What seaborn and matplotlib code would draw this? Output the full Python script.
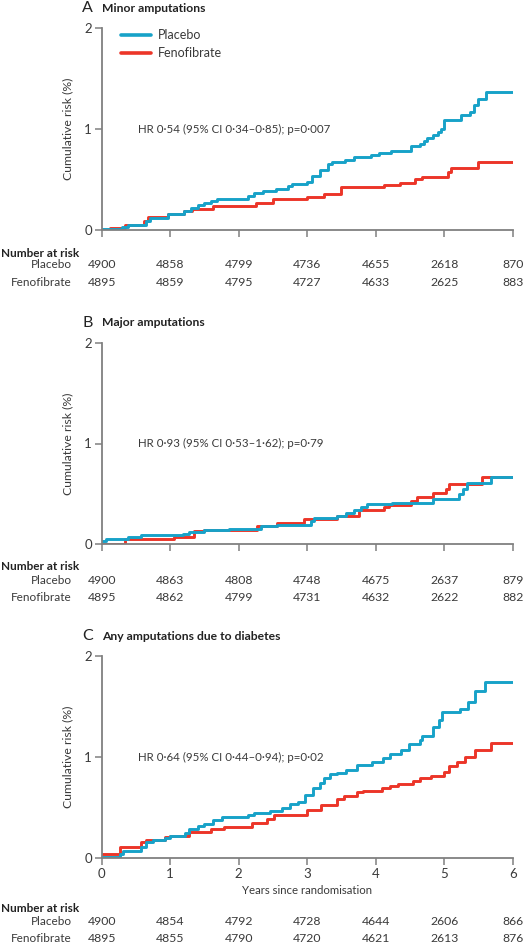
import numpy as np
import pandas as pd
import seaborn as sns
import matplotlib.pyplot as plt
from matplotlib.transforms import blended_transform_factory

# --- data (years, cumulative risk %) ---
a_placebo_t = [0, 0.3, 0.38, 0.65, 0.7, 0.97, 1.2, 1.3, 1.4, 1.5, 1.6, 1.68, 2.14, 2.22, 2.35, 2.55, 2.72, 2.78,
               3.0, 3.07, 3.19, 3.31, 3.36, 3.55, 3.69, 3.93, 4.05, 4.22, 4.51, 4.65, 4.7, 4.75, 4.84, 4.91, 4.96,
               5.0, 5.25, 5.37, 5.44, 5.49, 5.61, 6.0]
a_placebo_r = [0.01, 0.03, 0.05, 0.09, 0.12, 0.16, 0.19, 0.22, 0.25, 0.27, 0.29, 0.31, 0.34, 0.37, 0.39, 0.41, 0.44,
               0.46, 0.48, 0.53, 0.59, 0.65, 0.67, 0.69, 0.72, 0.74, 0.76, 0.78, 0.83, 0.85, 0.88, 0.91, 0.94, 0.97,
               1.0, 1.09, 1.14, 1.17, 1.24, 1.30, 1.37, 1.37]
a_feno_t = [0, 0.12, 0.34, 0.62, 0.68, 0.97, 1.2, 1.32, 1.62, 2.25, 2.5, 3.0, 3.24, 3.5, 4.12, 4.36, 4.58, 4.67,
            5.06, 5.1, 5.49, 6.0]
a_feno_r = [0, 0.02, 0.05, 0.09, 0.13, 0.16, 0.19, 0.21, 0.24, 0.27, 0.31, 0.33, 0.36, 0.43, 0.45, 0.47, 0.50, 0.52,
            0.57, 0.61, 0.67, 0.67]

b_placebo_t = [0, 0.07, 0.39, 0.58, 1.18, 1.28, 1.5, 1.86, 2.32, 2.56, 3.05, 3.1, 3.43, 3.57, 3.69, 3.79, 3.88,
               4.24, 4.83, 5.21, 5.28, 5.33, 5.69, 6.0]
b_placebo_r = [0.03, 0.05, 0.07, 0.09, 0.10, 0.115, 0.14, 0.15, 0.175, 0.19, 0.23, 0.26, 0.28, 0.31, 0.34, 0.37,
               0.40, 0.41, 0.45, 0.50, 0.55, 0.61, 0.67, 0.67]
b_feno_t = [0, 0.34, 1.06, 1.35, 1.5, 2.27, 2.56, 2.95, 3.43, 3.76, 4.12, 4.19, 4.52, 4.6, 4.83, 5.02, 5.07, 5.55, 6.0]
b_feno_r = [0, 0.05, 0.07, 0.13, 0.14, 0.175, 0.21, 0.25, 0.28, 0.34, 0.37, 0.39, 0.43, 0.47, 0.51, 0.55, 0.60,
            0.67, 0.67]

c_placebo_t = [0, 0.27, 0.31, 0.58, 0.65, 0.75, 0.92, 0.99, 1.21, 1.28, 1.4, 1.5, 1.62, 1.76, 2.13, 2.22, 2.46,
               2.63, 2.75, 2.87, 2.97, 3.08, 3.18, 3.25, 3.34, 3.44, 3.56, 3.73, 3.94, 4.11, 4.21, 4.37, 4.49, 4.64,
               4.68, 4.83, 4.92, 4.97, 5.23, 5.35, 5.45, 5.59, 6.0]
c_placebo_r = [0.01, 0.04, 0.07, 0.11, 0.16, 0.18, 0.20, 0.22, 0.25, 0.29, 0.32, 0.34, 0.38, 0.41, 0.43, 0.45, 0.47,
               0.50, 0.53, 0.55, 0.62, 0.69, 0.74, 0.79, 0.83, 0.84, 0.87, 0.92, 0.95, 0.99, 1.03, 1.07, 1.13, 1.17,
               1.21, 1.30, 1.37, 1.45, 1.48, 1.54, 1.65, 1.74, 1.74]
c_feno_t = [0, 0.27, 0.58, 0.65, 0.92, 0.99, 1.28, 1.59, 1.79, 2.2, 2.42, 2.51, 3.0, 3.2, 3.44, 3.54, 3.73, 3.82,
            4.09, 4.21, 4.33, 4.54, 4.64, 4.8, 5.0, 5.07, 5.19, 5.31, 5.45, 5.69, 6.0]
c_feno_r = [0.04, 0.11, 0.16, 0.18, 0.21, 0.22, 0.255, 0.29, 0.31, 0.35, 0.39, 0.43, 0.475, 0.52, 0.58, 0.61, 0.65,
            0.66, 0.69, 0.71, 0.73, 0.76, 0.79, 0.81, 0.85, 0.91, 0.95, 1.0, 1.07, 1.135, 1.135]

risk_years = [0, 1, 2, 3, 4, 5, 6]
a_risk_placebo = [4900, 4858, 4799, 4736, 4655, 2618, 870]
a_risk_feno = [4895, 4859, 4795, 4727, 4633, 2625, 883]
b_risk_placebo = [4900, 4863, 4808, 4748, 4675, 2637, 879]
b_risk_feno = [4895, 4862, 4799, 4731, 4632, 2622, 882]
c_risk_placebo = [4900, 4854, 4792, 4728, 4644, 2606, 866]
c_risk_feno = [4895, 4855, 4790, 4720, 4621, 2613, 876]

panel_letters = ['A', 'B', 'C']
panel_titles = ['Minor amputations', 'Major amputations', 'Any amputations due to diabetes']
hr_texts = ['HR 0·54 (95% CI 0·34–0·85); p=0·007',
            'HR 0·93 (95% CI 0·53–1·62); p=0·79',
            'HR 0·64 (95% CI 0·44–0·94); p=0·02']

BLUE = '#17a2c8'
RED = '#ec3528'
AXC = '#808080'
TXT = '#3a3a3a'

sns.set_theme(style='white')
plt.rcParams['font.family'] = ['Lato', 'DejaVu Sans']

W, H = 530, 946
fig = plt.figure(figsize=(W / 100, H / 100), dpi=100)


def fy(py):
    return 1 - py / H


# axes positions in pixels: (y of value 2, y of value 0)
panels = [(28, 230), (343, 544), (656, 858)]
# rows of the number-at-risk tables (header, placebo, fenofibrate), pixels
table_rows = [(253, 265, 283), (567, 580, 597), (908, 921, 938)]
x_left, x_right = 101.7, 512.7

series = [
    (a_placebo_t, a_placebo_r, a_feno_t, a_feno_r, a_risk_placebo, a_risk_feno),
    (b_placebo_t, b_placebo_r, b_feno_t, b_feno_r, b_risk_placebo, b_risk_feno),
    (c_placebo_t, c_placebo_r, c_feno_t, c_feno_r, c_risk_placebo, c_risk_feno),
]

for i, ((top, bot), (pt, pr, ft, fr, rp, rf)) in enumerate(zip(panels, series)):
    ax = fig.add_axes([x_left / W, fy(bot), (x_right - x_left) / W, (bot - top) / H])
    df = pd.concat([
        pd.DataFrame({'years': ft, 'risk': fr, 'group': 'Fenofibrate'}),
        pd.DataFrame({'years': pt, 'risk': pr, 'group': 'Placebo'}),
    ])
    sns.lineplot(data=df, x='years', y='risk', hue='group', hue_order=['Fenofibrate', 'Placebo'],
                 palette={'Placebo': BLUE, 'Fenofibrate': RED}, drawstyle='steps-post',
                 estimator=None, sort=False, linewidth=2.1, ax=ax, legend=(i == 0))
    ax.set_xlim(0, 6)
    ax.set_ylim(0, 2)
    ax.set_xticks(range(7))
    ax.set_yticks([0, 1, 2])
    for s in ['top', 'right']:
        ax.spines[s].set_visible(False)
    for s in ['left', 'bottom']:
        ax.spines[s].set_color(AXC)
        ax.spines[s].set_linewidth(1.3)
    ax.tick_params(axis='both', direction='out', length=5, width=1.1, color=AXC,
                   labelcolor=TXT, labelsize=9.5, pad=2, left=True, bottom=True)
    ax.set_ylabel('Cumulative risk (%)', fontsize=8.8, color=TXT, labelpad=8)
    if i < 2:
        ax.set_xticklabels([])
        ax.set_xlabel('')
    else:
        ax.set_xticklabels([str(v) for v in range(7)])
        ax.set_xlabel('Years since randomisation', fontsize=8.2, color=TXT, labelpad=4)

    ax.text(0.53, 1.0, hr_texts[i], fontsize=8.3, color=TXT, va='center', ha='left')

    if i == 0:
        handles, labels = ax.get_legend_handles_labels()
        order = [labels.index('Placebo'), labels.index('Fenofibrate')]
        leg = ax.legend([handles[k] for k in order], [labels[k] for k in order],
                        loc='upper left', bbox_to_anchor=(0.02, 1.05), frameon=False,
                        fontsize=9, handlelength=2.4, handletextpad=0.55, labelspacing=0.5)
        for t in leg.get_texts():
            t.set_color(TXT)
        for h in leg.get_lines():
            h.set_linewidth(2.6)

    # panel heading
    fig.text(82 / W, fy(top - 20), panel_letters[i], fontsize=11.5, color='#222222', va='center', ha='left')
    fig.text(102 / W, fy(top - 20), panel_titles[i], fontsize=8.7, fontweight='bold',
             color='#222222', va='center', ha='left')

    # number at risk table
    trans = blended_transform_factory(ax.transData, fig.transFigure)
    y_head, y_pl, y_fe = table_rows[i]
    fig.text(1 / W, fy(y_head), 'Number at risk', fontsize=8.5, fontweight='bold', color='#222222',
             va='center', ha='left')
    fig.text(72 / W, fy(y_pl), 'Placebo', fontsize=8.5, color=TXT, va='center', ha='right')
    fig.text(72 / W, fy(y_fe), 'Fenofibrate', fontsize=8.5, color=TXT, va='center', ha='right')
    for x, a, b in zip(risk_years, rp, rf):
        ax.text(x, fy(y_pl), str(a), transform=trans, fontsize=8.8, color=TXT,
                ha='center', va='center', clip_on=False)
        ax.text(x, fy(y_fe), str(b), transform=trans, fontsize=8.8, color=TXT,
                ha='center', va='center', clip_on=False)

fig.savefig('out.png', dpi=100)
